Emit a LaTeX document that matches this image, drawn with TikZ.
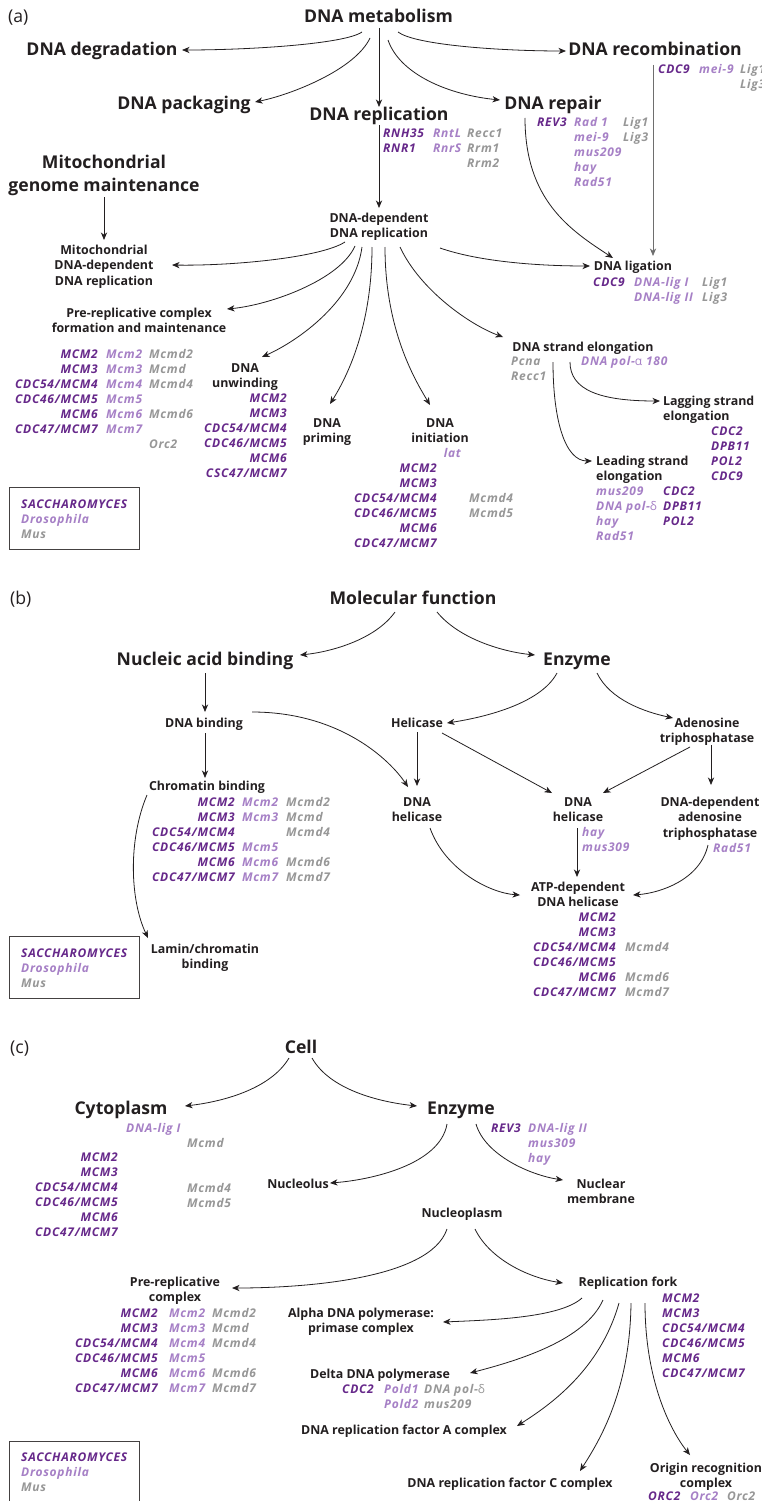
\documentclass[tikz,border=0pt]{standalone}
\usepackage{fontspec}
\setmainfont{Open Sans}
\newfontfamily\grkfont{Open Sans}
\newfontfamily\genefont[LetterSpace=6]{Open Sans}
\usetikzlibrary{arrows.meta}
\definecolor{ink}{HTML}{231F20}
\definecolor{dpur}{HTML}{66288A}
\definecolor{lpur}{HTML}{A680C6}
\definecolor{gry}{HTML}{979797}
\definecolor{lgry}{HTML}{6E6E6E}
\newcommand\fbig{\fontsize{17.6}{23}\selectfont\bfseries}
\newcommand\fmed{\fontsize{12.4}{15.5}\selectfont\bfseries}
\newcommand\fgene{\genefont\fontsize{12}{15}\selectfont\bfseries\itshape}
\newcommand\mlc[1]{\begin{tabular}[t]{@{}c@{}}#1\end{tabular}}
\newcommand\mll[1]{\begin{tabular}[t]{@{}l@{}}#1\end{tabular}}
\newcommand\mlr[1]{\begin{tabular}[t]{@{}r@{}}#1\end{tabular}}
\newcommand\mcms{MCM2\\MCM3\\CDC54/MCM4\\CDC46/MCM5\\MCM6\\CDC47/MCM7}
\newcommand\galpha{{\grkfont\upshape\mdseries α}}
\newcommand\gdelta{{\grkfont\upshape\mdseries δ}}
\begin{document}
\begin{tikzpicture}[x=1pt,y=1pt,
  lbl/.style={font=\fontsize{17.6}{22}\selectfont, text=ink, inner sep=0pt, anchor=base west},
  big/.style={font=\fbig, text=ink, inner sep=0pt, anchor=base},
  med/.style={font=\fmed, text=ink, inner sep=0pt, anchor=base},
  gS/.style={font=\fgene, text=dpur, inner sep=0pt},
  gD/.style={font=\fgene, text=lpur, inner sep=0pt},
  gM/.style={font=\fgene, text=gry, inner sep=0pt},
  arr/.style={-{Stealth[length=7.5pt,width=6.2pt,inset=2.2pt]}, line width=0.8pt, draw=ink},
  legbox/.style={draw=ink!85, line width=0.8pt}]
\fill[white] (0,0) rectangle (761,-1501);
\useasboundingbox (0,0) rectangle (761,-1501);

% ================= (a) =================
\node[lbl] (la) at (8,-23) {(a)};
\node[big] (metab) at (378.5,-23) {DNA metabolism};
\node[big] (degr) at (102,-56) {DNA degradation};
\node[big] (recomb) at (655,-56) {DNA recombination};
\node[big] (pack) at (184,-110) {DNA packaging};
\node[big] (repl) at (379,-121) {DNA replication};
\node[big] (repair) at (553,-110) {DNA repair};
\node[big] (mito) at (104,-168) {\mlc{Mitochondrial\\genome maintenance}};
\node[med] (mitorep) at (104,-254) {\mlc{Mitochondrial\\DNA-dependent\\DNA replication}};
\node[med] (deprep) at (379,-222) {\mlc{DNA-dependent\\DNA replication}};
\node[med] (ligation) at (633,-270) {DNA ligation};
\node[med] (prerep) at (139,-317) {\mlc{Pre-replicative complex\\formation and maintenance}};
\node[med] (unwind) at (245,-372) {\mlc{DNA\\unwinding}};
\node[med] (priming) at (327,-427) {\mlc{DNA\\priming}};
\node[med] (init) at (440,-427) {\mlc{DNA\\initiation}};
\node[med] (elong) at (583,-351) {DNA strand elongation};
\node[med, anchor=base west] (lagging) at (663,-405) {\mll{Lagging strand\\elongation}};
\node[med, anchor=base west] (leading) at (596,-465) {\mll{Leading strand\\elongation}};

% genes (a)
\node[gS, anchor=base west] (g1s) at (383,-137) {\mll{RNH35\\RNR1}};
\node[gD, anchor=base west] (g1d) at (433,-137) {\mll{RntL\\RnrS}};
\node[gM, anchor=base west] (g1m) at (467,-137) {\mll{Recc1\\Rrm1\\Rrm2}};
\node[gS, anchor=base west] (g2s) at (537,-127) {REV3};
\node[gD, anchor=base west] (g2d) at (574,-127) {\mll{Rad 1\\mei-9\\mus209\\hay\\Rad51}};
\node[gM, anchor=base west] (g2m) at (623,-127) {\mll{Lig1\\Lig3}};
\node[gS, anchor=base west] (g3s) at (658,-74) {CDC9};
\node[gD, anchor=base west] (g3d) at (699,-74) {mei-9};
\node[gM, anchor=base west] (g3m) at (740,-74) {\mll{Lig1\\Lig3}};
\node[gS, anchor=base west] (g4s) at (593,-286) {CDC9};
\node[gD, anchor=base west] (g4d) at (634,-286) {\mll{DNA-lig I\\DNA-lig II}};
\node[gM, anchor=base west] (g4m) at (702,-286) {\mll{Lig1\\Lig3}};
\node[gM, anchor=base west] (g5m) at (511,-365) {\mll{Pcna\\Recc1}};
\node[gD, anchor=base west] (g5d) at (581,-365) {DNA pol-\galpha\ 180};
\node[gS, anchor=base west] (g6s) at (711,-435) {\mll{CDC2\\DPB11\\POL2\\CDC9}};
\node[gD, anchor=base west] (g7d) at (596,-495) {\mll{mus209\\DNA pol-\gdelta\\hay\\Rad51}};
\node[gS, anchor=base west] (g7s) at (663,-495) {\mll{CDC2\\DPB11\\POL2}};
\node[gD, anchor=base east] (g8d) at (461,-457) {lat};
\node[gS, anchor=base east] (g8s) at (437,-472) {\mlr{\mcms}};
\node[gM, anchor=base west] (g8m) at (469,-472) {\mll{{}\\{}\\Mcmd4\\Mcmd5}};
\node[gS, anchor=base east] (g9s) at (98,-358) {\mlr{\mcms}};
\node[gD, anchor=base west] (g9d) at (106,-358) {\mll{Mcm2\\Mcm3\\Mcm4\\Mcm5\\Mcm6\\Mcm7}};
\node[gM, anchor=base west] (g9m) at (149,-358) {\mll{Mcmd2\\Mcmd\\Mcmd4\\{}\\Mcmd6\\{}\\Orc2}};
\node[gS, anchor=base east] (g10s) at (287,-402) {\mlr{MCM2\\MCM3\\CDC54/MCM4\\CDC46/MCM5\\MCM6\\CSC47/MCM7}};
\draw[legbox] (9,-487) rectangle (139,-549);
\node[gS, anchor=base west] (legA) at (21,-508) {\mll{SACCHAROMYCES\\\textcolor{lpur}{Drosophila}\\\textcolor{gry}{Mus}}};

% arrows (a)
\draw[arr] ([shift={(-16.5,-9)}]metab.base) .. controls (345,-44) and (250,-50) .. ([shift={(80,6)}]degr.base);
\draw[arr] ([shift={(-8.5,-15)}]metab.base) .. controls (355,-70) and (290,-95) .. ([shift={(71,8)}]pack.base);
\draw[arr] ([shift={(0.5,-5)}]metab.base) -- ([shift={(0,14)}]repl.base);
\draw[arr] ([shift={(9.5,-17)}]metab.base) .. controls (400,-75) and (450,-95) .. ([shift={(-53,10)}]repair.base);
\draw[arr] ([shift={(19.5,-9)}]metab.base) .. controls (415,-45) and (500,-51) .. ([shift={(-89,5)}]recomb.base);
\draw[arr] ([shift={(0,-4)}]repl.base) -- ([shift={(0,14)}]deprep.base);
\draw[arr] ([shift={(-28,-8)}]repair.base) .. controls (525,-200) and (570,-230) .. ([shift={(-20,12)}]ligation.base);
\draw[arr, draw=lgry] ([shift={(-2,-9)}]recomb.base) -- ([shift={(20,14)}]ligation.base);
\draw[arr] ([shift={(0,-29)}]mito.base) -- ([shift={(0,14)}]mitorep.base);
\draw[arr] ([shift={(-34,-20)}]deprep.base) .. controls (320,-258) and (230,-266) .. ([shift={(68,-11)}]mitorep.base);
\draw[arr] ([shift={(-24,-24)}]deprep.base) .. controls (340,-280) and (270,-305) .. ([shift={(88,8)}]prerep.base);
\draw[arr] ([shift={(-17,-25)}]deprep.base) .. controls (355,-300) and (300,-340) .. ([shift={(17,15)}]unwind.base);
\draw[arr] ([shift={(-7,-25)}]deprep.base) .. controls (372,-330) and (345,-380) .. ([shift={(3,23)}]priming.base);
\draw[arr] ([shift={(6,-25)}]deprep.base) .. controls (385,-330) and (415,-380) .. ([shift={(-10,22)}]init.base);
\draw[arr] ([shift={(21,-25)}]deprep.base) .. controls (420,-290) and (470,-325) .. ([shift={(-80,14)}]elong.base);
\draw[arr] ([shift={(61,-26)}]deprep.base) .. controls (480,-262) and (540,-266) .. ([shift={(-43,4)}]ligation.base);
\draw[arr] ([shift={(-13,-11)}]elong.base) .. controls (570,-390) and (600,-401) .. ([shift={(-3,4)}]lagging.base west);
\draw[arr] ([shift={(-30,-11)}]elong.base) .. controls (553,-420) and (565,-461) .. ([shift={(-4,4)}]leading.base west);

% ================= (b) =================
\node[lbl] (lb) at (10,-604) {(b)};
\node[big] (molfun) at (413,-604) {Molecular function};
\node[big] (nucleic) at (205,-665) {Nucleic acid binding};
\node[big] (enzB) at (577,-665) {Enzyme};
\node[med] (dnabind) at (204,-727) {DNA binding};
\node[med] (chrom) at (207,-790) {Chromatin binding};
\node[med] (lamin) at (205,-953) {\mlc{Lamin/chromatin\\binding}};
\node[med] (helic) at (417,-727) {Helicase};
\node[med] (adeno) at (707,-727) {\mlc{Adenosine\\triphosphatase}};
\node[med] (dnahel1) at (417,-806) {\mlc{DNA\\helicase}};
\node[med] (dnahel2) at (578,-806) {\mlc{DNA\\helicase}};
\node[med] (dnaatp) at (710,-806) {\mlc{DNA-dependent\\adenosine\\triphosphatase}};
\node[med] (atpdep) at (578,-891) {\mlc{ATP-dependent\\DNA helicase}};

\node[gS, anchor=base east] (c1s) at (235,-806) {\mlr{\mcms}};
\node[gD, anchor=base west] (c1d) at (242,-806) {\mll{Mcm2\\Mcm3\\{}\\Mcm5\\Mcm6\\Mcm7}};
\node[gM, anchor=base west] (c1m) at (286,-806) {\mll{Mcmd2\\Mcmd\\Mcmd4\\{}\\Mcmd6\\Mcmd7}};
\node[gD, anchor=base west] (h2d) at (582,-836) {\mll{hay\\mus309}};
\node[gD, anchor=base west] (ad) at (713,-852) {Rad51};
\node[gS, anchor=base east] (a1s) at (616,-921) {\mlr{\mcms}};
\node[gM, anchor=base west] (a1m) at (625,-921) {\mll{{}\\{}\\Mcmd4\\{}\\Mcmd6\\Mcmd7}};
\draw[legbox] (9,-936) rectangle (139,-998);
\node[gS, anchor=base west] (legB) at (21,-957) {\mll{SACCHAROMYCES\\\textcolor{lpur}{Drosophila}\\\textcolor{gry}{Mus}}};

\draw[arr] ([shift={(-18,-8)}]molfun.base) .. controls (375,-640) and (330,-652) .. ([shift={(95,10)}]nucleic.base);
\draw[arr] ([shift={(24,-8)}]molfun.base) .. controls (460,-640) and (505,-652) .. ([shift={(-42,10)}]enzB.base);
\draw[arr] ([shift={(0,-8)}]nucleic.base) -- ([shift={(1,15)}]dnabind.base);
\draw[arr] ([shift={(1,-6)}]dnabind.base) -- ([shift={(-2,12)}]chrom.base);
\draw[arr] ([shift={(-20,-8)}]enzB.base) .. controls (540,-705) and (480,-718) .. ([shift={(30,4)}]helic.base);
\draw[arr] ([shift={(20,-8)}]enzB.base) .. controls (610,-700) and (645,-712) .. ([shift={(-34,9)}]adeno.base);
\draw[arr] ([shift={(48,15)}]dnabind.base) .. controls (340,-712) and (390,-760) .. ([shift={(-9,19)}]dnahel1.base);
\draw[arr] ([shift={(0,-5)}]helic.base) -- ([shift={(0,20)}]dnahel1.base);
\draw[arr] ([shift={(25,-6)}]helic.base) -- ([shift={(-26,13)}]dnahel2.base);
\draw[arr] ([shift={(-17,-20)}]adeno.base) -- ([shift={(25,13)}]dnahel2.base);
\draw[arr] ([shift={(4,-18)}]adeno.base) -- ([shift={(1,21)}]dnaatp.base);
\draw[arr] ([shift={(-1,-22)}]dnahel2.base) -- ([shift={(-1,14)}]atpdep.base);
\draw[arr] ([shift={(13,-22)}]dnahel1.base) .. controls (445,-870) and (490,-893) .. ([shift={(-58,-4)}]atpdep.base);
\draw[arr] ([shift={(-2,-39)}]dnaatp.base) .. controls (700,-880) and (660,-893) .. ([shift={(55,-4)}]atpdep.base);
\draw[arr] ([shift={(-60,-5)}]chrom.base) .. controls (128,-840) and (130,-900) .. ([shift={(-57,15)}]lamin.base);

% ================= (c) =================
\node[lbl] (lc) at (10,-1053) {(c)};
\node[big] (cell) at (301,-1053) {Cell};
\node[big] (cyto) at (121,-1114) {Cytoplasm};
\node[big] (enzC) at (461,-1114) {Enzyme};
\node[med] (nucleolus) at (298,-1188) {Nucleolus};
\node[med] (nucmem) at (601,-1188) {\mlc{Nuclear\\membrane}};
\node[med] (nucleoplasm) at (462,-1217) {Nucleoplasm};
\node[med] (prerepc) at (175,-1286) {\mlc{Pre-replicative\\complex}};
\node[med] (fork) at (628,-1286) {Replication fork};
\node[med] (alpha) at (361,-1317) {\mlc{Alpha DNA polymerase:\\primase complex}};
\node[med] (delta) at (380,-1378) {Delta DNA polymerase};
\node[med] (rfa) at (404,-1434) {DNA replication factor A complex};
\node[med] (rfc) at (510,-1487) {DNA replication factor C complex};
\node[med] (orc) at (706,-1472) {\mlc{Origin recognition\\complex}};

\node[gD, anchor=base west] (y1d) at (126,-1132) {DNA-lig I};
\node[gM, anchor=base west] (y1m) at (187,-1147) {\mll{Mcmd\\{}\\{}\\Mcmd4\\Mcmd5}};
\node[gS, anchor=base east] (y1s) at (118,-1161) {\mlr{\mcms}};
\node[gS, anchor=base west] (e1s) at (491,-1132) {REV3};
\node[gD, anchor=base west] (e1d) at (528,-1132) {\mll{DNA-lig II\\mus309\\hay}};
\node[gS, anchor=base east] (p1s) at (158,-1317) {\mlr{\mcms}};
\node[gD, anchor=base west] (p1d) at (169,-1317) {\mll{Mcm2\\Mcm3\\Mcm4\\Mcm5\\Mcm6\\Mcm7}};
\node[gM, anchor=base west] (p1m) at (212,-1317) {\mll{Mcmd2\\Mcmd\\Mcmd4\\{}\\Mcmd6\\Mcmd7}};
\node[gS, anchor=base west] (f1s) at (662,-1302) {\mll{\mcms}};
\node[gS, anchor=base west] (d1s) at (342,-1393) {CDC2};
\node[gD, anchor=base west] (d1d) at (384,-1393) {\mll{Pold1\\Pold2}};
\node[gM, anchor=base west] (d1m) at (424,-1393) {\mll{DNA pol-\gdelta\\mus209}};
\node[gS, anchor=base west] (o1s) at (648,-1500) {ORC2};
\node[gD, anchor=base west] (o1d) at (690,-1500) {Orc2};
\node[gM, anchor=base west] (o1m) at (727,-1500) {Orc2};
\draw[legbox] (9,-1441) rectangle (139,-1503);
\node[gS, anchor=base west] (legC) at (21,-1461) {\mll{SACCHAROMYCES\\\textcolor{lpur}{Drosophila}\\\textcolor{gry}{Mus}}};

\draw[arr] ([shift={(-12,-5)}]cell.base) .. controls (270,-1090) and (220,-1102) .. ([shift={(64,8)}]cyto.base);
\draw[arr] ([shift={(11,-5)}]cell.base) .. controls (330,-1090) and (380,-1102) .. ([shift={(-44,8)}]enzC.base);
\draw[arr] ([shift={(-14,-10)}]enzC.base) .. controls (440,-1165) and (370,-1180) .. ([shift={(32,5)}]nucleolus.base);
\draw[arr] ([shift={(15,-10)}]enzC.base) .. controls (485,-1155) and (530,-1175) .. ([shift={(-38,8)}]nucmem.base);
\draw[arr] ([shift={(-15,-12)}]nucleoplasm.base) .. controls (430,-1280) and (300,-1288) .. ([shift={(57,-2)}]prerepc.base);
\draw[arr] ([shift={(13,-12)}]nucleoplasm.base) .. controls (490,-1260) and (530,-1278) .. ([shift={(-65,3)}]fork.base);
\draw[arr] ([shift={(-46,-12)}]fork.base) .. controls (560,-1318) and (490,-1320) .. ([shift={(82,-5)}]alpha.base);
\draw[arr] ([shift={(-25,-14)}]fork.base) .. controls (585,-1340) and (520,-1360) .. ([shift={(90,5)}]delta.base);
\draw[arr] ([shift={(-9,-17)}]fork.base) .. controls (600,-1370) and (550,-1405) .. ([shift={(113,8)}]rfa.base);
\draw[arr] ([shift={(3,-17)}]fork.base) .. controls (630,-1390) and (600,-1440) .. ([shift={(70,16)}]rfc.base);
\draw[arr] ([shift={(17,-17)}]fork.base) .. controls (645,-1380) and (670,-1430) .. ([shift={(-16,17)}]orc.base);
\end{tikzpicture}
\end{document}
